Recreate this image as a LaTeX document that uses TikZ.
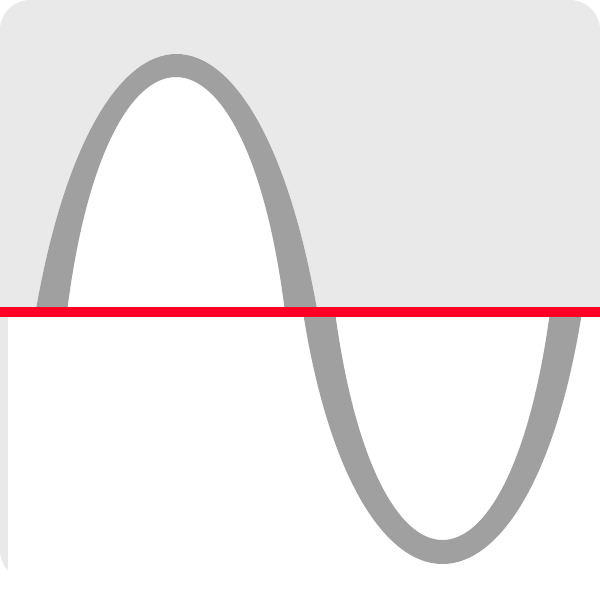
\documentclass[tikz,border=0pt]{standalone}
\usepackage{tikz}
\usepackage{xcolor}
\definecolor{panel}{RGB}{233,233,233}
\definecolor{wave}{RGB}{160,160,160}
\definecolor{axisred}{RGB}{255,0,36}
\begin{document}
\begin{tikzpicture}[
    x=0.01cm, y=-0.01cm,
    panelfill/.style={fill=panel, rounded corners=0.3cm},
    wavefill/.style={fill=wave, even odd rule},
    axisfill/.style={fill=axisred}
]
\useasboundingbox (0,0) rectangle (600,600);

% Background
\fill[panelfill] (0,0) rectangle (600,580);
\fill[white] (8,312) rectangle (600,600);

% Upper arch
\fill[white] (35.5,312) .. controls (95.5,-32) and (257.5,-32) .. (317.5,312) -- cycle;
\fill[wavefill] (35.5,312) .. controls (95.5,-32) and (257.5,-32) .. (317.5,312) -- cycle
    (67,312) .. controls (106,-1.3) and (246,-1.3) .. (285,312) -- cycle;

% Lower trough
\fill[wavefill] (303,312) .. controls (356,648) and (529,648) .. (582,312) -- cycle
    (335,312) .. controls (376,616) and (509,616) .. (550,312) -- cycle;

% Axis
\fill[axisfill] (0,307) rectangle (600,317);

\end{tikzpicture}
\end{document}
